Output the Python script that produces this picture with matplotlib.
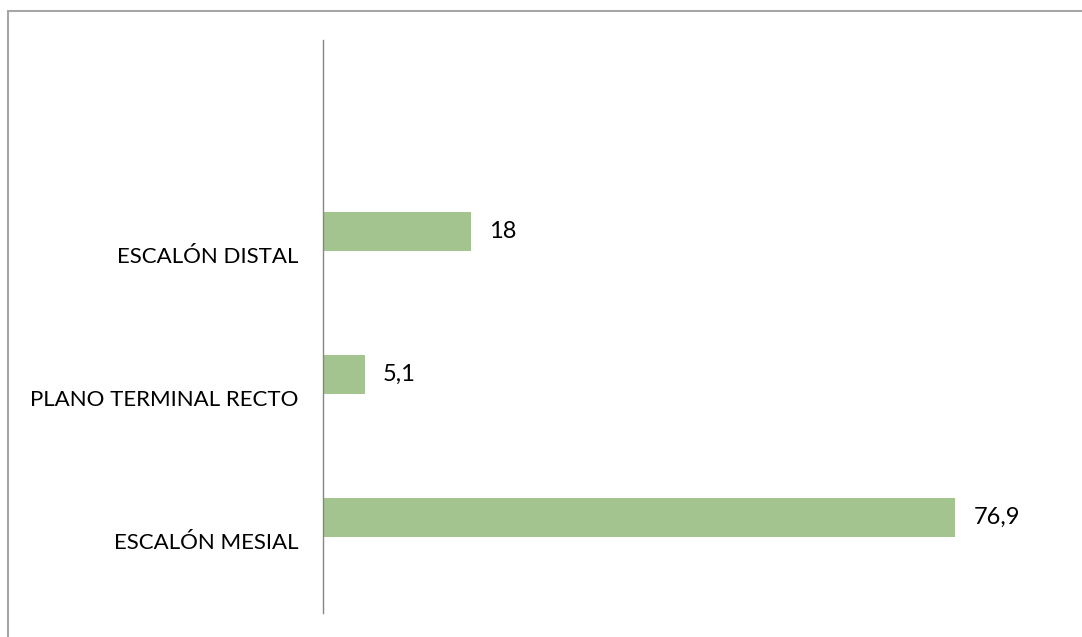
import matplotlib.pyplot as plt
from matplotlib.patches import Rectangle

categorias = ["ESCALÓN MESIAL", "PLANO TERMINAL RECTO", "ESCALÓN DISTAL"]
valores = [76.9, 5.1, 18]
etiquetas = ["76,9", "5,1", "18"]

plt.rcParams['font.family'] = ['Lato', 'DejaVu Sans']

fig = plt.figure(figsize=(10.82, 6.37), dpi=100)
# marco gris del area del grafico
fig.patches.append(Rectangle((8/1082, -0.01), 1.02, 1 - 11/637 + 0.01,
                             transform=fig.transFigure, fill=False,
                             edgecolor='#A6A6A6', linewidth=1.5))

ax = fig.add_axes([323/1082, 1 - 613/637, (1063 - 323)/1082, (613 - 40)/637])
pos = list(range(len(categorias)))
# las barras van desplazadas hacia arriba dentro de cada categoria
desp = 0.165
ypos = [p + desp for p in pos]
ax.barh(ypos, valores, height=0.27, color='#A3C48F')
for y, v, t in zip(ypos, valores, etiquetas):
    ax.annotate(t, (v, y), xytext=(13, 0), textcoords='offset points',
                va='center', ha='left', fontsize=17, color='black')

ax.set_xlim(0, 90)
ax.set_ylim(-0.5, 3.5)
ax.set_yticks(pos)
ax.set_yticklabels(categorias, fontsize=16)
ax.tick_params(axis='y', length=0, pad=18)
ax.set_xticks([])
for s in ['top', 'right', 'bottom']:
    ax.spines[s].set_visible(False)
ax.spines['left'].set_color('#868686')
ax.spines['left'].set_linewidth(1)

fig.savefig('out.png', dpi=100)
